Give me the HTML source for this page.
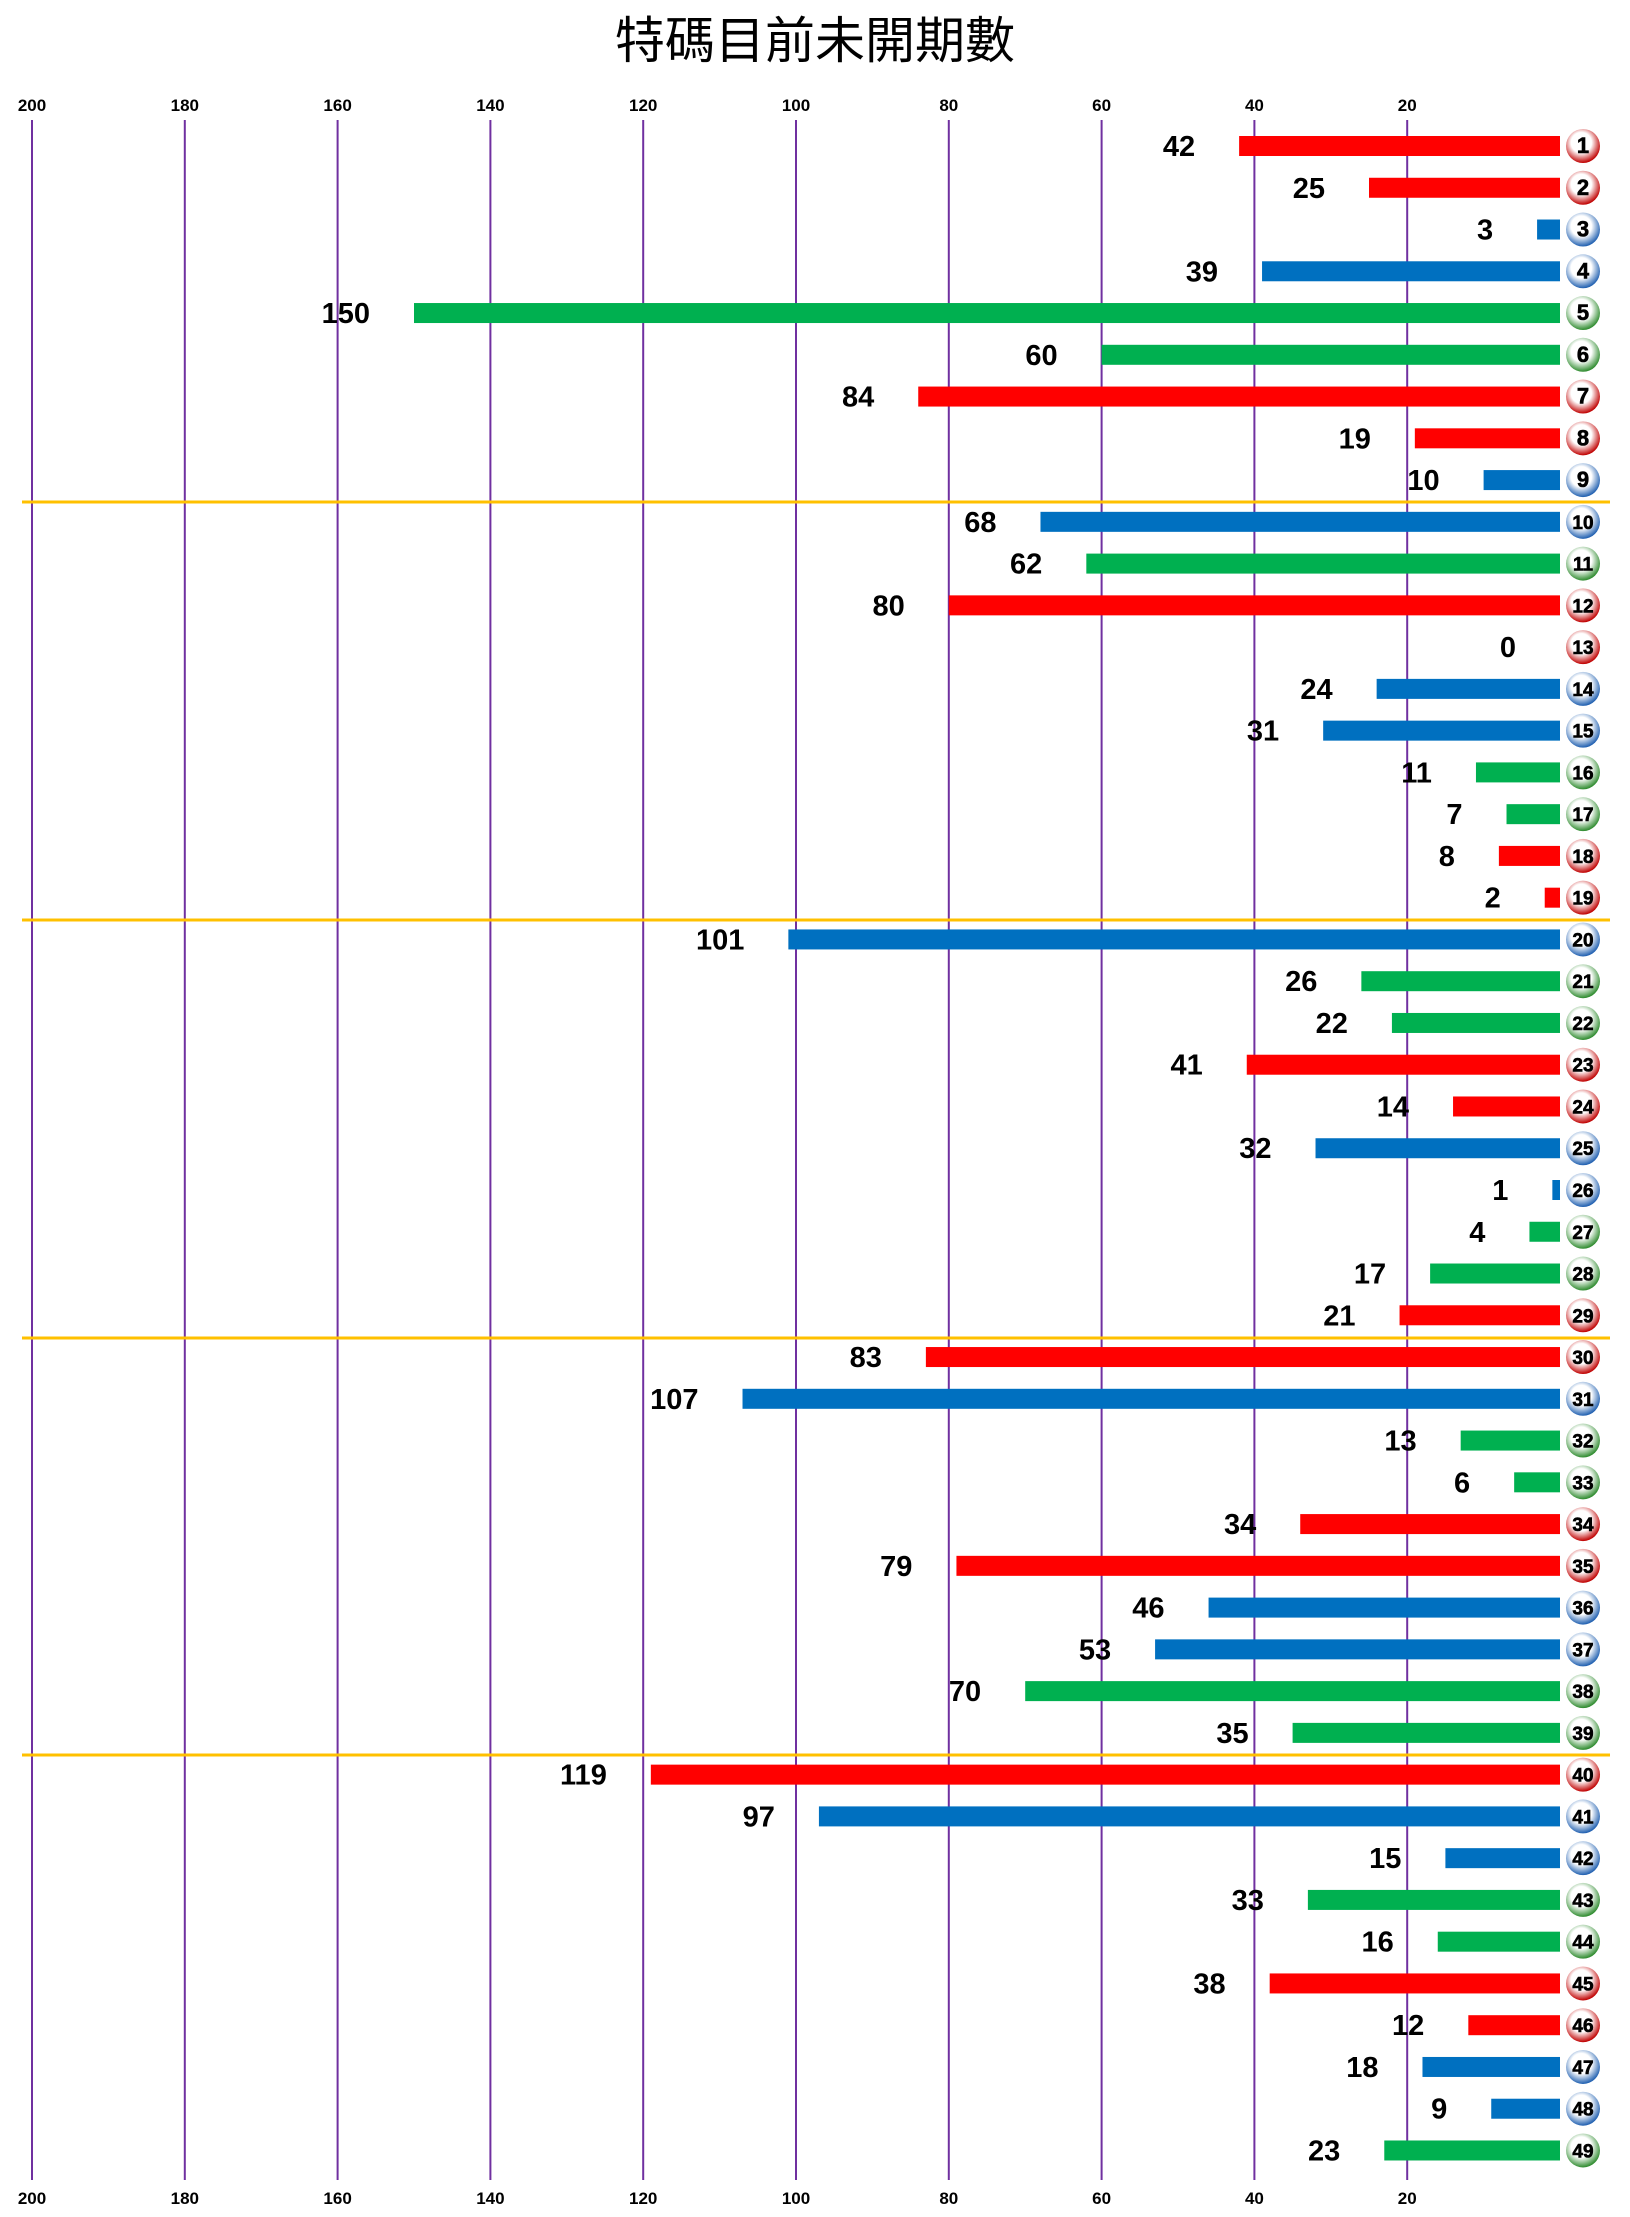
<!DOCTYPE html>
<html><head><meta charset="utf-8"><style>
html,body{margin:0;padding:0;background:#fff;}
svg{display:block;}
</style></head><body>
<svg id="c" width="1630" height="2217" xmlns="http://www.w3.org/2000/svg">
<defs>
<radialGradient id="gr" cx="45%" cy="40%" r="60%"><stop offset="0.5" stop-color="#fff"/><stop offset="1" stop-color="#c00000"/></radialGradient>
<radialGradient id="gb" cx="45%" cy="40%" r="60%"><stop offset="0.5" stop-color="#fff"/><stop offset="1" stop-color="#1f5fb0"/></radialGradient>
<radialGradient id="gg" cx="45%" cy="40%" r="60%"><stop offset="0.5" stop-color="#fff"/><stop offset="1" stop-color="#2e8b2e"/></radialGradient>
</defs>
<text x="815" y="58" text-anchor="middle" font-family="'Noto Sans CJK TC','WenQuanYi Zen Hei',sans-serif" font-size="50" fill="#000">特碼目前未開期數</text>
<g id="g"></g>
</svg>
<script>
var vals=[42,25,3,39,150,60,84,19,10,68,62,80,0,24,31,11,7,8,2,101,26,22,41,14,32,1,4,17,21,83,107,13,6,34,79,46,53,70,35,119,97,15,33,16,38,12,18,9,23];
var red=[1,2,7,8,12,13,18,19,23,24,29,30,34,35,40,45,46];
var blue=[3,4,9,10,14,15,20,25,26,31,36,37,41,42,47,48];
var X0=1560,U=7.64,Y0=146,DY=41.76;
var s='';
for(var v=20;v<=200;v+=20){var x=X0-v*U;
s+='<line x1="'+x+'" y1="120" x2="'+x+'" y2="2180" stroke="#7030A0" stroke-width="2"/>';
s+='<text x="'+x+'" y="111" text-anchor="middle" font-family="Liberation Sans,sans-serif" font-weight="bold" font-size="17">'+v+'</text>';
s+='<text x="'+x+'" y="2204" text-anchor="middle" font-family="Liberation Sans,sans-serif" font-weight="bold" font-size="17">'+v+'</text>';}
[502,920,1338,1755].forEach(function(y){s+='<line x1="22" y1="'+y+'" x2="1610" y2="'+y+'" stroke="#FFC000" stroke-width="3"/>';});
for(var i=0;i<49;i++){var n=i+1,val=vals[i],y=Y0+i*DY;
var c=red.indexOf(n)>=0?'#FF0000':(blue.indexOf(n)>=0?'#0070C0':'#00B050');
var g=red.indexOf(n)>=0?'gr':(blue.indexOf(n)>=0?'gb':'gg');
var w=val*U;
if(val>0)s+='<rect x="'+(X0-w)+'" y="'+(y-10)+'" width="'+w+'" height="20" fill="'+c+'"/>';
s+='<text x="'+(X0-w-44)+'" y="'+(y+10)+'" text-anchor="end" font-family="Liberation Sans,sans-serif" font-weight="bold" font-size="29">'+val+'</text>';
s+='<circle cx="1583" cy="'+y+'" r="17" fill="url(#'+g+')"/>';
s+='<text x="1583" y="'+(y+7)+'" text-anchor="middle" font-family="Liberation Sans,sans-serif" font-weight="900" font-size="'+(n>9?19:22)+'" fill="#000" stroke="#000" stroke-width="0.6">'+n+'</text>';}
document.getElementById('g').innerHTML=s;
</script>
</body></html>
